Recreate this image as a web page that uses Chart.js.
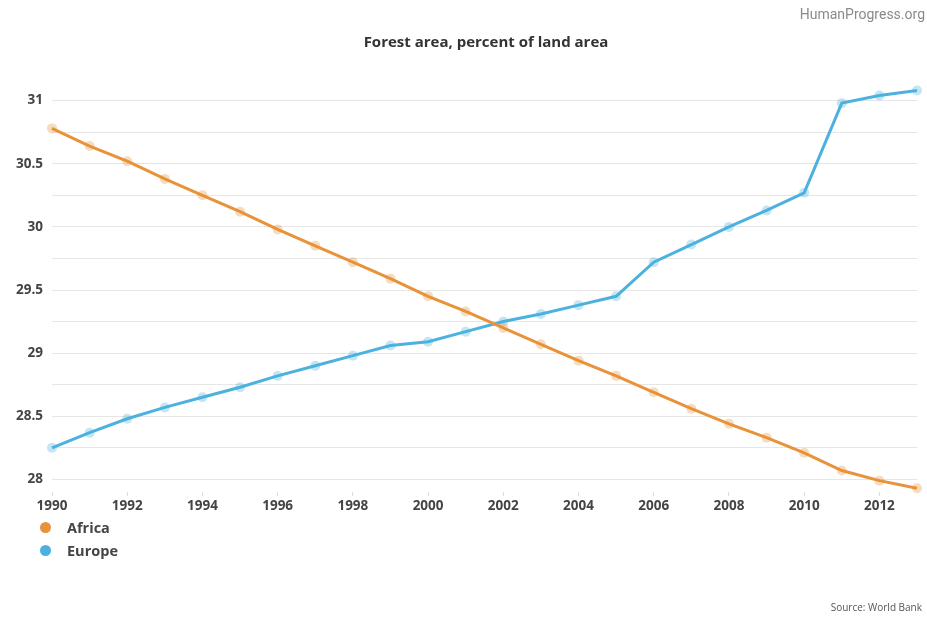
<!DOCTYPE html>
<html>
<head>
<meta charset="utf-8">
<script src="https://cdn.jsdelivr.net/npm/chart.js@4"></script>
<style>
  body { margin: 0; background: #fff; font-family: "Open Sans", "Noto Sans", sans-serif; }
  #wrap { position: relative; width: 927px; height: 617px; overflow: hidden; }
  #chart { position: absolute; left: 0; top: 0; }
  #brand { position: absolute; right: 2px; top: 6px; font-family: Roboto, "Liberation Sans", sans-serif; font-size: 14px; color: #8a8a8a; }
  #title { position: absolute; left: 0; width: 972px; top: 31px; text-align: center; font-size: 15px; font-weight: bold; color: #333; }
  #legend { position: absolute; left: 40px; top: 517px; font-size: 14.5px; font-weight: bold; color: #444; }
  #legend div { height: 23px; line-height: 22px; }
  #legend span.dot { display: inline-block; width: 11px; height: 11px; border-radius: 50%; margin-right: 16px; vertical-align: 0px; }
  #source { position: absolute; right: 5px; top: 600px; font-size: 10px; color: #555; }
</style>
</head>
<body>
<div id="wrap">
  <canvas id="chart" width="927" height="617"></canvas>
  <div id="brand">HumanProgress.org</div>
  <div id="title">Forest area, percent of land area</div>
  <div id="legend"></div>
  <div id="source">Source: World Bank</div>
</div>
<script>
const years = [1990, 1991, 1992, 1993, 1994, 1995, 1996, 1997, 1998, 1999, 2000, 2001,
               2002, 2003, 2004, 2005, 2006, 2007, 2008, 2009, 2010, 2011, 2012, 2013];
const africa = [30.78, 30.64, 30.52, 30.38, 30.25, 30.12, 29.98, 29.85, 29.72, 29.59, 29.45, 29.33,
                29.20, 29.07, 28.94, 28.82, 28.69, 28.56, 28.44, 28.33, 28.21, 28.07, 27.99, 27.93];
const europe = [28.25, 28.37, 28.48, 28.57, 28.65, 28.73, 28.82, 28.90, 28.98, 29.06, 29.09, 29.17,
                29.25, 29.31, 29.38, 29.45, 29.72, 29.86, 30.00, 30.13, 30.27, 30.98, 31.04, 31.08];
const yTickLabels = ['28', '28.5', '29', '29.5', '30', '30.5', '31'];

const africaColor = '#e8923a';
const europeColor = '#4cb1de';

function makeDataset(label, data, color) {
    return {
        label: label,
        data: data,
        borderColor: color,
        backgroundColor: color,
        borderWidth: 3,
        pointRadius: 5,
        pointBorderWidth: 0,
        pointBackgroundColor: color + '55',
        pointHoverRadius: 5,
        tension: 0,
        clip: false
    };
}

const ctx = document.getElementById('chart').getContext('2d');
const chart = new Chart(ctx, {
    type: 'line',
    data: {
        labels: years.map(String),
        datasets: [
            makeDataset('Africa', africa, africaColor),
            makeDataset('Europe', europe, europeColor)
        ]
    },
    options: {
        responsive: false,
        animation: false,
        layout: { padding: { left: 0, right: 10, top: 88, bottom: 97 } },
        plugins: {
            legend: { display: false },
            tooltip: { enabled: false }
        },
        scales: {
            x: {
                offset: false,
                grid: {
                    display: true,
                    drawOnChartArea: false,
                    drawTicks: true,
                    tickLength: 4,
                    // small marks only under the labelled (even) years
                    color: function (c) {
                        return years[c.index] % 2 === 0 ? '#ddd' : 'rgba(0,0,0,0)';
                    }
                },
                border: { display: false },
                ticks: {
                    autoSkip: false,
                    maxRotation: 0,
                    padding: 2,
                    color: '#444',
                    font: { family: '"Open Sans", sans-serif', size: 13.5, weight: 'bold' },
                    callback: function (value, index) {
                        const y = years[index];
                        return y % 2 === 0 ? String(y) : '';
                    }
                },
                afterFit: function (scale) { scale.height = 28; }
            },
            y: {
                min: 27.9,
                max: 31.1,
                grid: { color: '#e6e6e6', lineWidth: 1, drawTicks: false },
                border: { display: false },
                // quarter-step grid from 28 to 31, labels on the halves
                afterBuildTicks: function (scale) {
                    const first = Number(yTickLabels[0]);
                    const last = Number(yTickLabels[yTickLabels.length - 1]);
                    const ticks = [];
                    for (let i = 0; first + i * 0.25 <= last + 0.001; i++) {
                        ticks.push({ value: first + i * 0.25 });
                    }
                    scale.ticks = ticks;
                },
                ticks: {
                    padding: 9,
                    color: '#444',
                    font: { family: '"Open Sans", sans-serif', size: 13.5, weight: 'bold' },
                    callback: function (value) {
                        const s = String(Math.round(value * 100) / 100);
                        return yTickLabels.includes(s) ? s : '';
                    }
                },
                afterFit: function (scale) { scale.width = 52; }
            }
        }
    }
});

// legend built from the chart's datasets
const legendEl = document.getElementById('legend');
chart.data.datasets.forEach(ds => {
    const row = document.createElement('div');
    row.innerHTML = `<span class="dot" style="background:${ds.borderColor}"></span>${ds.label}`;
    legendEl.appendChild(row);
});
</script>
</body>
</html>
